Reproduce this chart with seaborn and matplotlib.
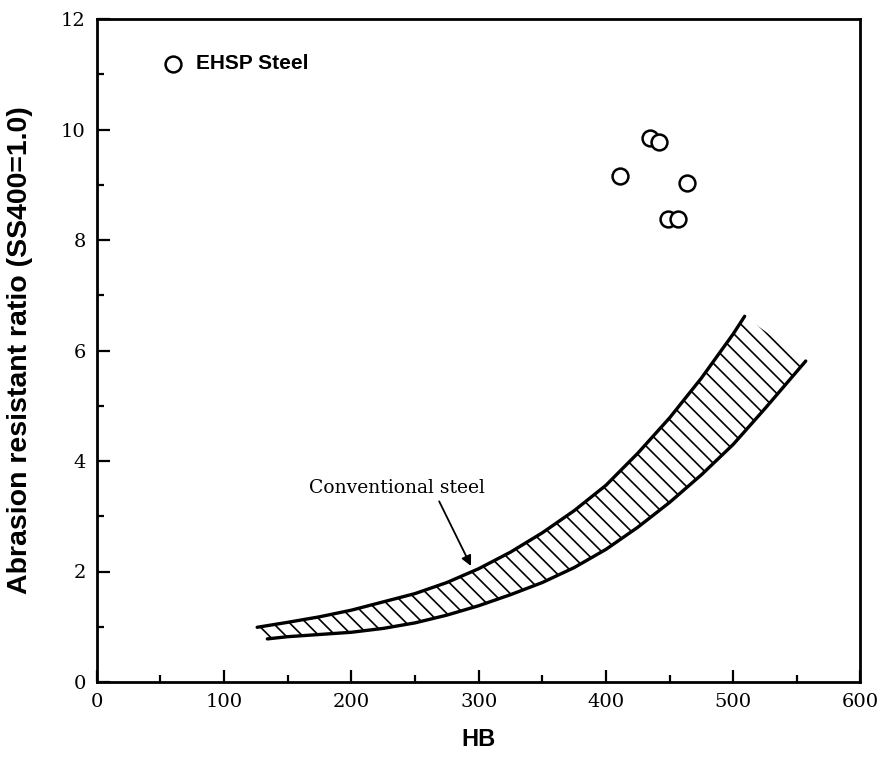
import numpy as np
import pandas as pd
import seaborn as sns
import matplotlib.pyplot as plt
from matplotlib.ticker import MultipleLocator

# EHSP steel measurements
ehsp_hb = [411, 435, 442, 449, 457, 464]
ehsp_ratio = [9.15, 9.85, 9.78, 8.38, 8.38, 9.03]

# conventional steel band (upper and lower bounds)
upper_hb = [126, 150, 175, 200, 225, 250, 275, 300, 325, 350, 375, 400, 425, 450, 475, 500, 509]
upper_y = [0.99, 1.08, 1.18, 1.3, 1.45, 1.6, 1.8, 2.05, 2.35, 2.7, 3.1, 3.56, 4.14, 4.78, 5.5, 6.3, 6.62]
lower_hb = [134, 150, 175, 200, 225, 250, 275, 300, 325, 350, 375, 400, 425, 450, 475, 500, 525, 557]
lower_y = [0.78, 0.82, 0.86, 0.9, 0.97, 1.07, 1.21, 1.38, 1.58, 1.8, 2.07, 2.4, 2.8, 3.25, 3.75, 4.3, 4.95, 5.81]

sns.set_style('ticks')
plt.rcParams['hatch.linewidth'] = 1.2
plt.rcParams['text.color'] = 'black'
plt.rcParams['axes.labelcolor'] = 'black'
plt.rcParams['xtick.color'] = 'black'
plt.rcParams['ytick.color'] = 'black'
plt.rcParams['axes.edgecolor'] = 'black'

fig = plt.figure(figsize=(8.88, 7.62), dpi=100)
ax = fig.add_axes([0.109, 0.105, 0.860, 0.870])

df_pts = pd.DataFrame({'HB': ehsp_hb, 'ratio': ehsp_ratio})
sns.scatterplot(data=df_pts, x='HB', y='ratio', ax=ax, marker='o', s=130,
                facecolor='white', edgecolor='black', linewidth=1.8,
                label='EHSP Steel', zorder=5)

sns.lineplot(x=upper_hb, y=upper_y, ax=ax, color='black', lw=2.4, sort=False)
sns.lineplot(x=lower_hb, y=lower_y, ax=ax, color='black', lw=2.4, sort=False)

# hatched area between the two bounds
poly_x = list(upper_hb) + list(lower_hb[::-1])
poly_y = list(upper_y) + list(lower_y[::-1])
ax.fill(poly_x, poly_y, facecolor='none', edgecolor='black', linewidth=0, hatch='\\\\')

ax.text(236, 3.52, 'Conventional steel', ha='center', va='center',
        fontsize=13.5, family='DejaVu Serif')
ax.annotate('', xy=(294, 2.1), xytext=(269, 3.27),
            arrowprops=dict(arrowstyle='-|>', color='black', lw=1.3,
                            mutation_scale=15, shrinkA=0, shrinkB=0))

ax.set_xlim(0, 600)
ax.set_ylim(0, 12)
ax.xaxis.set_major_locator(MultipleLocator(100))
ax.xaxis.set_minor_locator(MultipleLocator(50))
ax.yaxis.set_major_locator(MultipleLocator(2))
ax.yaxis.set_minor_locator(MultipleLocator(1))
ax.tick_params(which='both', direction='in', top=False, right=False, width=1.6)
ax.tick_params(which='major', length=9, pad=8, labelsize=14)
ax.tick_params(which='minor', length=5)
for lab in ax.get_xticklabels() + ax.get_yticklabels():
    lab.set_family('DejaVu Serif')
for sp in ax.spines.values():
    sp.set_linewidth(2.0)

ax.set_xlabel('HB', fontsize=17, fontweight='bold', family='Liberation Sans', labelpad=12)
ax.set_ylabel('Abrasion resistant ratio (SS400=1.0)', fontsize=20.5, fontweight='bold',
              family='Liberation Sans', labelpad=20)

leg = ax.legend(loc='upper left', bbox_to_anchor=(0.048, 0.975), frameon=False,
                handletextpad=0.1, prop={'family': 'Liberation Sans', 'weight': 'bold', 'size': 15})

fig.savefig('out.png', dpi=100)
